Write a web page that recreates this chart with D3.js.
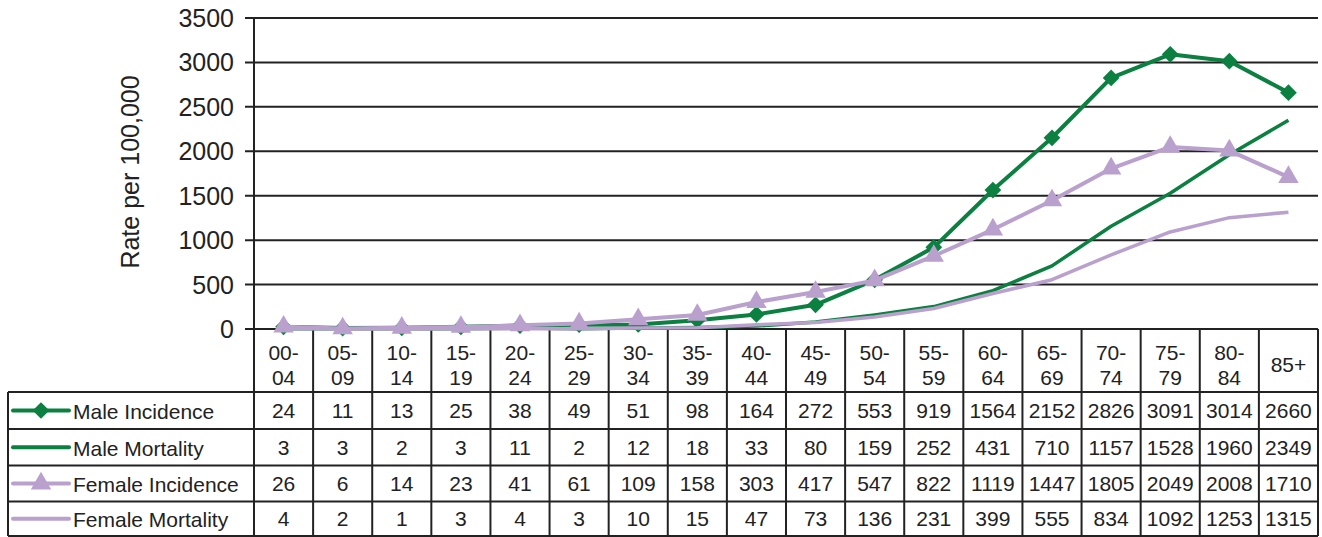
<!DOCTYPE html>
<html><head><meta charset="utf-8">
<script src="https://cdn.jsdelivr.net/npm/d3@7"></script>
<style>body{margin:0;background:#fff}svg{display:block}text{font-family:"Liberation Sans",Arial,sans-serif;fill:#222}</style>
</head><body><svg id="c" width="1322" height="537"></svg>
<script>
const categories = ["00-04","05-09","10-14","15-19","20-24","25-29","30-34","35-39","40-44","45-49","50-54","55-59","60-64","65-69","70-74","75-79","80-84","85+"];
const maleIncidence = [24,11,13,25,38,49,51,98,164,272,553,919,1564,2152,2826,3091,3014,2660];
const maleMortality = [3,3,2,3,11,2,12,18,33,80,159,252,431,710,1157,1528,1960,2349];
const femaleIncidence = [26,6,14,23,41,61,109,158,303,417,547,822,1119,1447,1805,2049,2008,1710];
const femaleMortality = [4,2,1,3,4,3,10,15,47,73,136,231,399,555,834,1092,1253,1315];
const yTicks = [0,500,1000,1500,2000,2500,3000,3500];
const seriesNames = ["Male Incidence","Male Mortality","Female Incidence","Female Mortality"];

(function(){
const green = "#0b8040", purple = "#b9a0cd", ink = "#222";
const series = [
  {name: seriesNames[0], values: maleIncidence, color: green, marker: "diamond"},
  {name: seriesNames[1], values: maleMortality, color: green, marker: null},
  {name: seriesNames[2], values: femaleIncidence, color: purple, marker: "triangle"},
  {name: seriesNames[3], values: femaleMortality, color: purple, marker: null}
];

const svg = d3.select("#c");
const pL = 254, pR = 1318, pT = 18, pB = 329;
const x = d3.scaleBand().domain(categories).range([pL, pR]);
const y = d3.scaleLinear().domain([0, 3500]).range([pB, pT]);

svg.append("g").selectAll("line").data(yTicks).join("line")
  .attr("x1", pL - 9).attr("x2", pR).attr("y1", d => y(d)).attr("y2", d => y(d))
  .attr("stroke", ink).attr("stroke-width", 2);

svg.append("g").selectAll("text").data(yTicks).join("text")
  .attr("x", 234).attr("y", d => y(d)).attr("dy", "0.36em")
  .attr("text-anchor", "end").style("font-size", "25px").text(d => d);

svg.append("text").attr("transform", "translate(139,172) rotate(-90)")
  .attr("text-anchor", "middle").style("font-size", "25px").text("Rate per 100,000");

const rowLines = [392, 429, 465.5, 501.5, 536];
const tableLeft = 8;
const fs = "21px";
const g = svg.append("g");
const bounds = categories.map(c => x(c)).concat([pR]);
g.selectAll("line.v").data(bounds).join("line").attr("class","v")
  .attr("x1", d => d).attr("x2", d => d)
  .attr("y1", (d,i) => i === 0 ? pT : pB).attr("y2", 536)
  .attr("stroke", ink).attr("stroke-width", 2);
g.append("line").attr("x1", tableLeft).attr("x2", tableLeft).attr("y1", rowLines[0]).attr("y2", 536).attr("stroke", ink).attr("stroke-width", 2);
g.selectAll("line.h").data(rowLines).join("line").attr("class","h")
  .attr("x1", tableLeft).attr("x2", pR).attr("y1", d => d).attr("y2", d => d)
  .attr("stroke", ink).attr("stroke-width", 2);

categories.forEach(c => {
  const cx = x(c) + x.bandwidth()/2;
  const parts = c.split("-");
  if (parts.length === 2) {
    g.append("text").attr("x", cx).attr("y", 360).attr("text-anchor","middle").style("font-size",fs).text(parts[0] + "-");
    g.append("text").attr("x", cx).attr("y", 385).attr("text-anchor","middle").style("font-size",fs).text(parts[1]);
  } else {
    g.append("text").attr("x", cx).attr("y", 372).attr("text-anchor","middle").style("font-size",fs).text(c);
  }
});

const diamond = d3.symbol().type(d3.symbolSquare).size(140);
const triangle = d3.symbol().type(d3.symbolTriangle).size(180);
const markerPath = m => m === "diamond" ? diamond() : triangle();
const markerRot = m => m === "diamond" ? " rotate(45)" : "";

series.forEach((s, i) => {
  const cy = (rowLines[i] + rowLines[i+1]) / 2;
  g.selectAll(null).data(s.values).join("text")
    .attr("x", (d, j) => x(categories[j]) + x.bandwidth()/2).attr("y", cy).attr("dy","0.36em")
    .attr("text-anchor","middle").style("font-size",fs).text(d => d);
  g.append("line").attr("x1", 13).attr("x2", 69).attr("y1", cy).attr("y2", cy)
    .attr("stroke", s.color).attr("stroke-width", 4).attr("stroke-linecap","round");
  if (s.marker) {
    g.append("path").attr("d", markerPath(s.marker))
      .attr("transform", `translate(41,${cy})` + markerRot(s.marker)).attr("fill", s.color);
  }
  g.append("text").attr("x", 73).attr("y", cy + 1).attr("dy","0.36em").style("font-size",fs).text(s.name);
});

const line = d3.line().x((d, j) => x(categories[j]) + x.bandwidth()/2).y(d => y(d));
series.forEach(s => {
  const sg = svg.append("g");
  sg.append("path").datum(s.values).attr("d", line).attr("fill","none")
    .attr("stroke", s.color).attr("stroke-width", s.marker ? 4 : 3.5).attr("stroke-linejoin","round");
  if (s.marker) {
    sg.selectAll("path.m").data(s.values).join("path").attr("class","m")
      .attr("d", markerPath(s.marker))
      .attr("transform", (d, j) => `translate(${x(categories[j]) + x.bandwidth()/2},${y(d)})` + markerRot(s.marker))
      .attr("fill", s.color);
  }
});
})();
</script></body></html>
